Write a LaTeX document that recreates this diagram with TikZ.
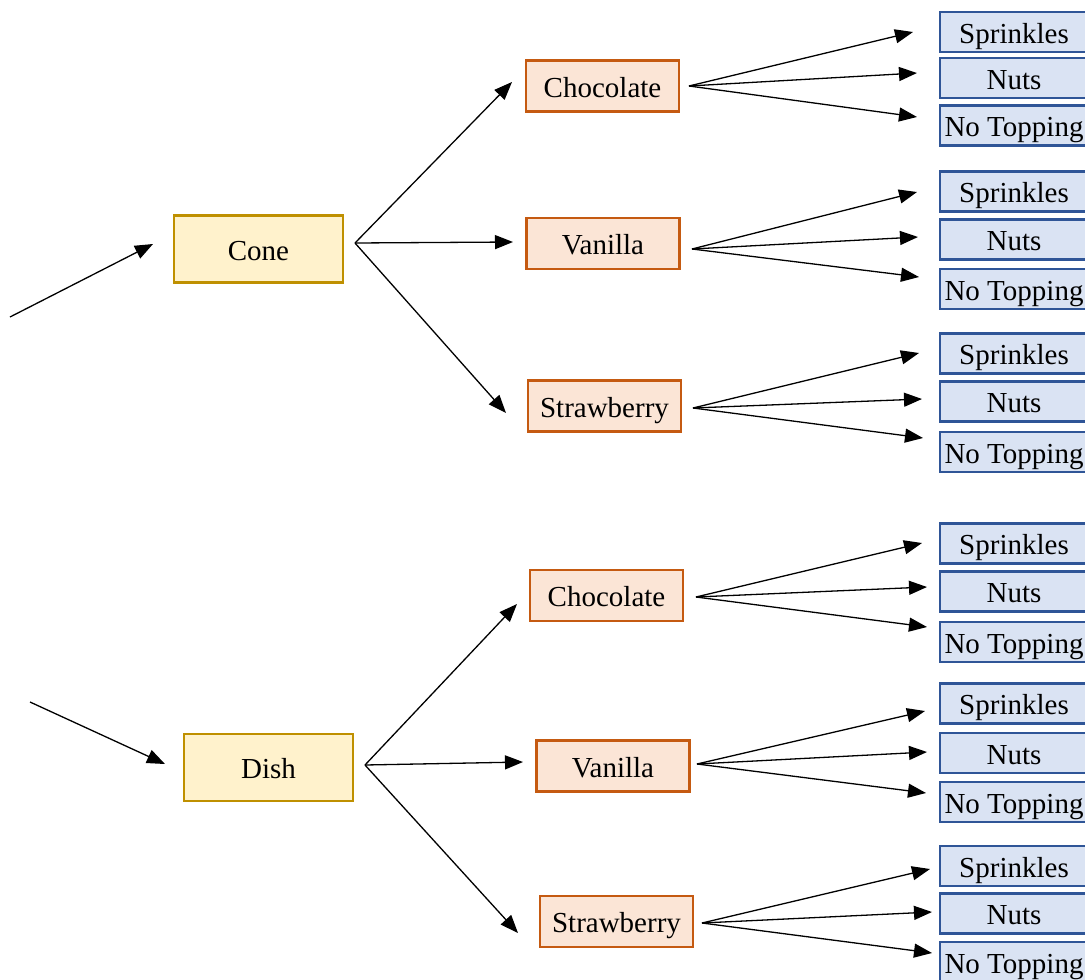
\documentclass[tikz,border=0pt]{standalone}
\usepackage{fontspec}
\setmainfont{Liberation Serif}
\newfontfamily\tnrfont{Liberation Serif}
\usetikzlibrary{arrows.meta}
\definecolor{goldfill}{HTML}{FFF2CC}
\definecolor{goldline}{HTML}{BF9000}
\definecolor{peachfill}{HTML}{FBE5D6}
\definecolor{rustline}{HTML}{C55A11}
\definecolor{bluefill}{HTML}{DAE3F3}
\definecolor{blueline}{HTML}{2F5597}
\begin{document}
\begin{tikzpicture}[x=1pt,y=-1pt,
  basebox/.style={font=\tnrfont\fontsize{29}{34}\selectfont, inner sep=0pt, line width=2.2pt,
                  text height=26pt, text depth=4pt},
  goldbox/.style={basebox, fill=goldfill, draw=goldline, minimum width=169pt, minimum height=67pt},
  flavbox/.style={basebox, fill=peachfill, draw=rustline, minimum width=153pt, minimum height=51pt},
  topbox/.style={basebox, fill=bluefill, draw=blueline, minimum width=148pt, minimum height=40pt},
  arr/.style={line width=1.3pt, -{Triangle[length=18pt,width=14pt]}}]
\useasboundingbox (0,0) rectangle (1085,980);
\clip (0,0) rectangle (1085,980);

% base nodes
\node[goldbox] (cone) at (258.5,249) {Cone};
\node[goldbox] (dish) at (268.5,767.5) {Dish};

% flavour nodes
\node[flavbox] (choc1) at (602.5,86) {Chocolate};
\node[flavbox] (van1) at (603,243.5) {Vanilla};
\node[flavbox] (str1) at (604.5,406) {Strawberry};
\node[flavbox] (choc2) at (606.5,595.5) {Chocolate};
\node[flavbox] (van2) at (613,766) {Vanilla};
\node[flavbox] (str2) at (616.5,921.5) {Strawberry};

% topping nodes
\foreach \g/\a/\b/\c in {1/32/78/125.5, 2/191.5/239.5/289, 3/353.5/401.5/452,
                          4/543.5/591.5/642, 5/703.5/753/802, 6/866/913.5/962}{
  \node[topbox] (s\g) at (1014,\a) {Sprinkles};
  \node[topbox] (n\g) at (1014,\b) {Nuts};
  \node[topbox] (x\g) at (1014,\c) {No Topping};
}

% fan origins
\coordinate (in1) at (10,317);
\coordinate (in2) at (30,702);
\coordinate (coneo) at (355,243);
\coordinate (disho) at (365,765);
\coordinate (o1) at (689,86);
\coordinate (o2) at (692,249);
\coordinate (o3) at (693,408);
\coordinate (o4) at (696,597);
\coordinate (o5) at (697,764);
\coordinate (o6) at (702,923);

% tips
\coordinate (tcone) at (153,244);
\coordinate (tdish) at (165,764);
\coordinate (tc1) at (512,82);
\coordinate (tv1) at (513,242);
\coordinate (ts1) at (506,413);
\coordinate (tc2) at (517,604);
\coordinate (tv2) at (523,762);
\coordinate (ts2) at (518,933);

\coordinate (ts-1) at (913,32);  \coordinate (tn-1) at (917,73);  \coordinate (tx-1) at (917,117);
\coordinate (ts-2) at (917,192); \coordinate (tn-2) at (918,237); \coordinate (tx-2) at (919,277);
\coordinate (ts-3) at (919,353); \coordinate (tn-3) at (922,399); \coordinate (tx-3) at (923,438);
\coordinate (ts-4) at (922,543); \coordinate (tn-4) at (927,587); \coordinate (tx-4) at (927,627);
\coordinate (ts-5) at (925,711); \coordinate (tn-5) at (927,752); \coordinate (tx-5) at (926,793);
\coordinate (ts-6) at (930,869); \coordinate (tn-6) at (932,912); \coordinate (tx-6) at (932,953);

% connectors
\draw[arr] (in1) -- (tcone);
\draw[arr] (in2) -- (tdish);
\draw[arr] (coneo) -- (tc1);
\draw[arr] (coneo) -- (tv1);
\draw[arr] (coneo) -- (ts1);
\draw[arr] (disho) -- (tc2);
\draw[arr] (disho) -- (tv2);
\draw[arr] (disho) -- (ts2);
\foreach \g in {1,...,6}{
  \draw[arr] (o\g) -- (ts-\g);
  \draw[arr] (o\g) -- (tn-\g);
  \draw[arr] (o\g) -- (tx-\g);
}
\end{tikzpicture}
\end{document}
